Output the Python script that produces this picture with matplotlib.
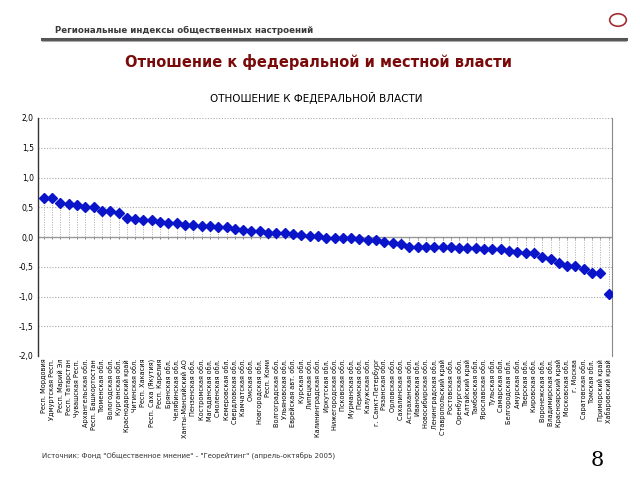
import numpy as np
import matplotlib
matplotlib.use("Agg")
import matplotlib.pyplot as plt
from matplotlib.patches import Circle
from matplotlib.lines import Line2D

regions = [
    "Респ. Мордовия", "Удмуртская Респ.", "Респ. Марий Эл", "Респ. Татарстан",
    "Чувашская Респ.", "Архангельская обл.", "Респ. Башкортостан", "Тюменская обл.",
    "Вологодская обл.", "Курганская обл.", "Краснодарский край", "Читинская обл.",
    "Респ. Хакасия", "Респ. Саха (Якутия)", "Респ. Карелия", "Брянская обл.",
    "Челябинская обл.", "Ханты-Мансийский АО", "Пензенская обл.", "Костромская обл.",
    "Магаданская обл.", "Смоленская обл.", "Кемеровская обл.", "Свердловская обл.",
    "Камчатская обл.", "Омская обл.", "Новгородская обл.", "Респ. Коми",
    "Волгоградская обл.", "Ульяновская обл.", "Еврейская авт. обл.", "Курская обл.",
    "Липецкая обл.", "Калининградская обл.", "Иркутская обл.", "Нижегородская обл.",
    "Псковская обл.", "Мурманская обл.", "Пермская обл.", "Калужская обл.",
    "г. Санкт-Петербург", "Рязанская обл.", "Орловская обл.", "Сахалинская обл.",
    "Астраханская обл.", "Ивановская обл.", "Новосибирская обл.", "Ленинградская обл.",
    "Ставропольский край", "Ростовская обл.", "Оренбургская обл.", "Алтайский край",
    "Тамбовская обл.", "Ярославская обл.", "Тульская обл.", "Самарская обл.",
    "Белгородская обл.", "Амурская обл.", "Тверская обл.", "Кировская обл.",
    "Воронежская обл.", "Владимирская обл.", "Красноярский край", "Московская обл.",
    "г. Москва", "Саратовская обл.", "Томская обл.", "Приморский край",
    "Хабаровский край",
]

values = [
    0.66, 0.65, 0.57, 0.56, 0.53, 0.51, 0.50, 0.44, 0.43, 0.41,
    0.32, 0.30, 0.29, 0.28, 0.25, 0.24, 0.23, 0.20, 0.20, 0.18,
    0.18, 0.17, 0.16, 0.14, 0.12, 0.10, 0.10, 0.06, 0.06, 0.06,
    0.05, 0.04, 0.02, 0.01, -0.01, -0.02, -0.02, -0.02, -0.04, -0.05,
    -0.05, -0.08, -0.10, -0.11, -0.16, -0.16, -0.17, -0.17, -0.17, -0.17,
    -0.18, -0.19, -0.19, -0.20, -0.21, -0.21, -0.24, -0.26, -0.27, -0.27,
    -0.34, -0.37, -0.44, -0.48, -0.48, -0.53, -0.60, -0.61, -0.95,
]

y_ticks = [2.0, 1.5, 1.0, 0.5, 0.0, -0.5, -1.0, -1.5, -2.0]

x = np.arange(len(values))

fig = plt.figure(figsize=(6.4, 4.8), dpi=100)

# slide header
fig.text(55 / 640, 1 - 30 / 480, "Региональные индексы общественных настроений",
         fontsize=6.2, fontweight="bold", color="#3a3a3a", va="center")
fig.add_artist(Line2D([42 / 640, 626 / 640], [1 - 38.5 / 480] * 2,
                      color="#555555", lw=2.2, transform=fig.transFigure))
fig.add_artist(Line2D([42 / 640, 626 / 640], [1 - 41 / 480] * 2,
                      color="#aaaaaa", lw=0.8, transform=fig.transFigure))
fig.add_artist(Circle((618 / 640, 1 - 20 / 480), 0.013, transform=fig.transFigure,
                      fill=False, ec="#a03030", lw=1.2))
fig.text(0.497, 1 - 62 / 480, "Отношение к федеральной и местной власти",
         fontsize=10.5, fontweight="bold", color="#7a0a0a", ha="center", va="center")
fig.text(0.494, 1 - 98 / 480, "ОТНОШЕНИЕ К ФЕДЕРАЛЬНОЙ ВЛАСТИ",
         fontsize=7.5, color="black", ha="center", va="center")

ax = fig.add_axes([38 / 640, 1 - 356 / 480, 574 / 640, 238 / 480])

for yv in y_ticks:
    if yv != 0:
        ax.axhline(yv, color="#aaaaaa", lw=0.8, ls=(0, (1, 1.5)), zorder=1)
ax.axhline(0, color="#999999", lw=1.0, zorder=2)
ax.vlines(x, 0, values, color="#aaaaaa", lw=0.7, linestyles=(0, (1, 1.5)), zorder=2)
ax.vlines(x, -0.04, 0, color="#888888", lw=0.7, zorder=2)
ax.plot(x, values, ls="none", marker="D", ms=5, color="#0a14c8", zorder=3)

ax.set_xlim(-0.7, len(values) - 0.6)
ax.set_ylim(-2.0, 2.0)
ax.set_yticks(y_ticks)
ax.set_yticklabels([f"{v:.1f}".replace(".", ",") for v in y_ticks], fontsize=5.5)
ax.set_xticks(x)
ax.set_xticklabels(regions, rotation=90, fontsize=4.7, va="top")
ax.tick_params(axis="both", length=0, pad=3)
ax.tick_params(axis="x", pad=2)

for side in ["top", "bottom"]:
    ax.spines[side].set_visible(False)
ax.spines["left"].set_color("#333333")
ax.spines["right"].set_color("#888888")
ax.spines["left"].set_linewidth(1.0)
ax.spines["right"].set_linewidth(0.8)

fig.text(42 / 640, 1 - 456 / 480,
         "Источник: Фонд \"Общественное мнение\" - \"Георейтинг\" (апрель-октябрь 2005)",
         fontsize=5, color="#333333", va="center")
fig.text(597 / 640, 1 - 460 / 480, "8", fontsize=15, family="DejaVu Serif",
         ha="center", va="center")

fig.savefig("out.png", dpi=100)
